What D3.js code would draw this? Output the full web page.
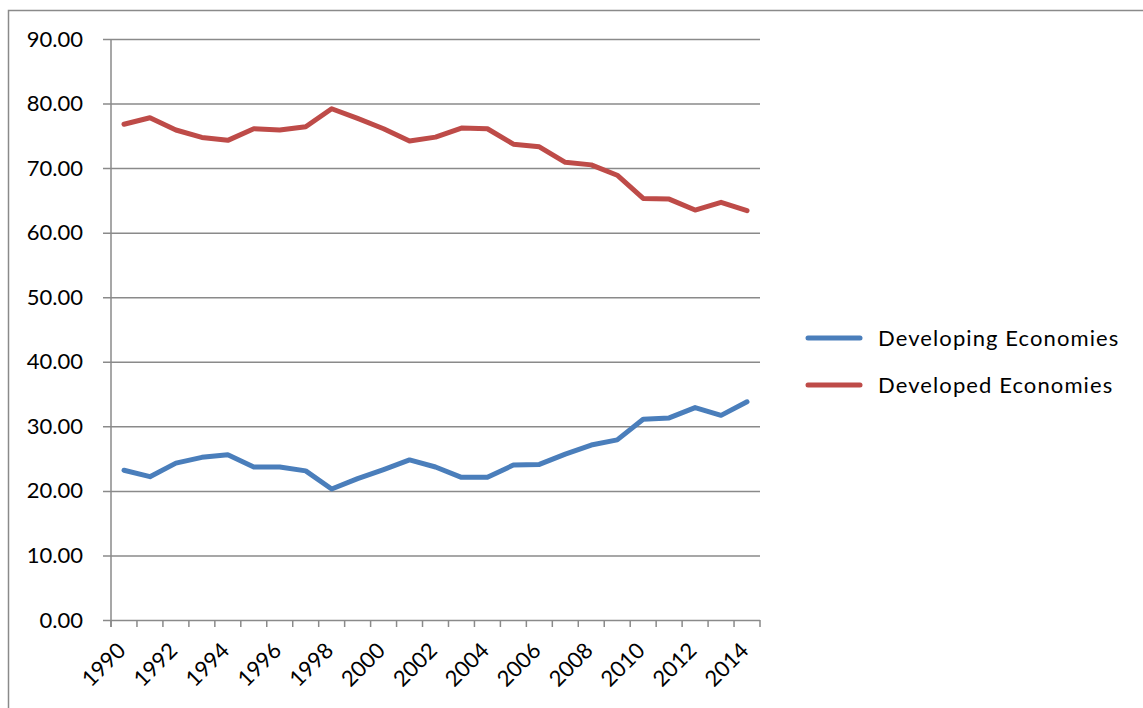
<!DOCTYPE html>
<html>
<head>
<meta charset="utf-8">
<script src="https://cdn.jsdelivr.net/npm/d3@7"></script>
<style>
  html, body { margin: 0; padding: 0; background: #fff; }
  svg { display: block; }
  text { font-family: Lato, "Open Sans", sans-serif; fill: #000; }
</style>
</head>
<body>
<svg id="chart" width="1143" height="708"></svg>
<script>
// Years on the category axis
const years = d3.range(1990, 2015).map(String);
// Year labels shown under the axis (every other year)
const yearLabels = ["1990","1992","1994","1996","1998","2000","2002","2004","2006","2008","2010","2012","2014"];
// Value axis ticks
const yTicks = [0, 10, 20, 30, 40, 50, 60, 70, 80, 90];

// Series values, 1990–2014
const developing = [23.2, 22.2, 24.3, 25.2, 25.6, 23.7, 23.7, 23.1, 20.3, 21.9, 23.3, 24.8, 23.7,
                    22.1, 22.1, 24.0, 24.1, 25.7, 27.1, 27.9, 31.1, 31.3, 32.9, 31.7, 33.8];
const developed  = [76.8, 77.8, 75.9, 74.75, 74.3, 76.1, 75.9, 76.4, 79.2, 77.7, 76.1, 74.2, 74.8,
                    76.2, 76.1, 73.7, 73.3, 70.9, 70.5, 68.9, 65.3, 65.2, 63.5, 64.7, 63.4];

const seriesNames = ["Developing Economies", "Developed Economies"];
const seriesColors = ["#4a7ebb", "#be4b48"];
const seriesValues = [developing, developed];

const svg = d3.select("#chart");
const gridColor = "#8a8a8a";

// Outer chart frame (runs off the right and bottom edges)
svg.append("path")
  .attr("d", "M8.5,708 V10.5 H1143")
  .attr("fill", "none")
  .attr("stroke", gridColor)
  .attr("stroke-width", 1.5);

const plot = { left: 111, right: 760, top: 39, bottom: 620 };

const x = d3.scaleBand().domain(years).range([plot.left, plot.right]);
const y = d3.scaleLinear().domain([0, 90]).range([plot.bottom, plot.top]);

// Horizontal gridlines with left tick marks
const yAxis = d3.axisLeft(y)
  .tickValues(yTicks)
  .tickFormat(d3.format(".2f"))
  .tickSize(-(plot.right - plot.left));

const gy = svg.append("g")
  .attr("transform", `translate(${plot.left},0)`)
  .call(yAxis);
gy.select(".domain").remove();
gy.selectAll(".tick line")
  .attr("x1", -8)
  .attr("stroke", gridColor)
  .attr("stroke-width", 1.5);
gy.selectAll(".tick text")
  .attr("x", -28)
  .attr("font-size", 22)
  .attr("font-family", "Lato, sans-serif");

// Vertical value-axis line
svg.append("line")
  .attr("x1", plot.left).attr("x2", plot.left)
  .attr("y1", y(90)).attr("y2", plot.bottom + 7)
  .attr("stroke", gridColor).attr("stroke-width", 1.5);

// Category tick marks at band boundaries
const boundaries = years.map(d => x(d)).concat([x(years[years.length - 1]) + x.bandwidth()]);
svg.append("g").selectAll("line")
  .data(boundaries)
  .join("line")
  .attr("x1", d => d).attr("x2", d => d)
  .attr("y1", plot.bottom).attr("y2", plot.bottom + 7)
  .attr("stroke", gridColor).attr("stroke-width", 1.5);

// Rotated year labels
svg.append("g").selectAll("text")
  .data(yearLabels)
  .join("text")
  .attr("transform", d => `translate(${x(d) + x.bandwidth() / 2 + 3},${plot.bottom + 32}) rotate(-45)`)
  .attr("text-anchor", "end")
  .attr("font-size", 22)
  .text(d => d);

// Series lines
const line = d3.line()
  .x((d, i) => x(years[i]) + x.bandwidth() / 2)
  .y(d => y(d));

svg.append("g").selectAll("path")
  .data(seriesValues)
  .join("path")
  .attr("d", d => line(d))
  .attr("fill", "none")
  .attr("stroke", (d, i) => seriesColors[i])
  .attr("stroke-width", 5)
  .attr("stroke-linejoin", "round")
  .attr("stroke-linecap", "round");

// Legend
const legend = svg.append("g").selectAll("g")
  .data(seriesNames)
  .join("g")
  .attr("transform", (d, i) => `translate(808,${338 + i * 47})`);
legend.append("line")
  .attr("x1", 0).attr("x2", 52)
  .attr("stroke", (d, i) => seriesColors[i])
  .attr("stroke-width", 5)
  .attr("stroke-linecap", "round");
legend.append("text")
  .attr("x", 70)
  .attr("dy", "0.35em")
  .attr("font-size", 22)
  .attr("letter-spacing", 1.1)
  .text(d => d);
</script>
</body>
</html>
